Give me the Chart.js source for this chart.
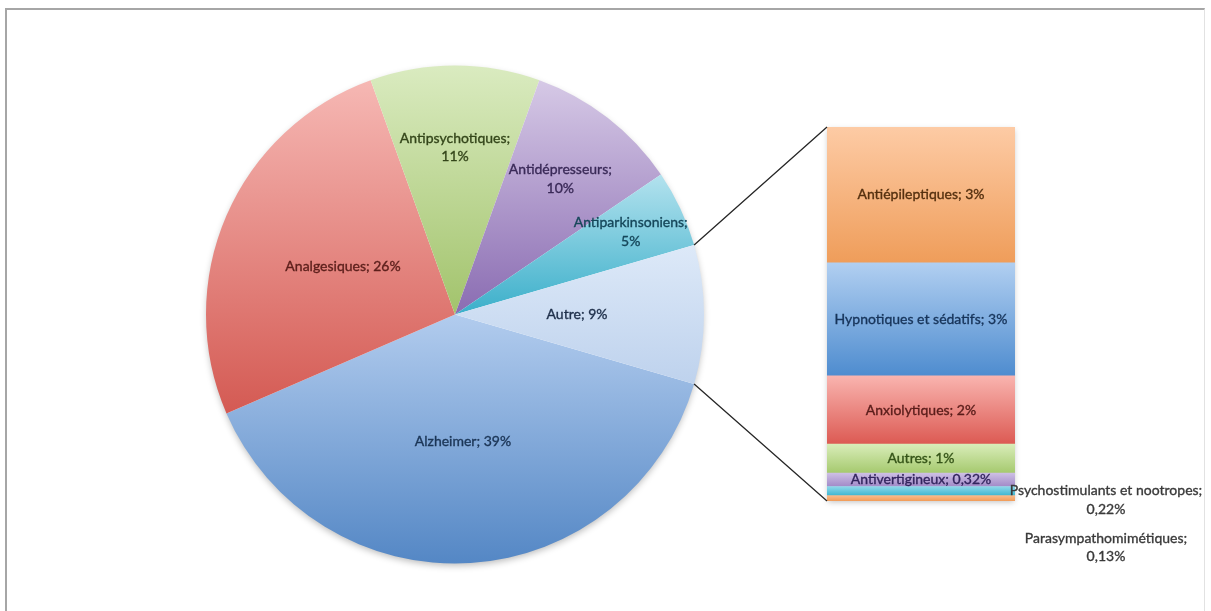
<!DOCTYPE html>
<html><head><meta charset="utf-8">
<script src="https://cdn.jsdelivr.net/npm/chart.js@4/dist/chart.umd.min.js"></script>
<style>
html,body{margin:0;padding:0;background:#fff;width:1211px;height:611px;overflow:hidden;}
#frame{position:absolute;left:5px;top:8px;width:1197px;height:620px;border-top:2px solid #a6a6a6;border-left:2px solid #a6a6a6;border-right:1px solid #e2e2e2;}
canvas{position:absolute;left:0;top:0;}
</style></head><body>
<div id="frame"></div>
<canvas id="pie" width="1211" height="611"></canvas>
<canvas id="bar" width="1211" height="611"></canvas>
<script>
// ---------- DATA ----------
const pieLabels = ['Alzheimer', 'Analgesiques', 'Antipsychotiques', 'Antidépresseurs', 'Antiparkinsoniens', 'Autre'];
const pieValues = [39, 26, 11, 10, 5, 9];
const pieText = [['Alzheimer; 39%'], ['Analgesiques; 26%'], ['Antipsychotiques;', '11%'], ['Antidépresseurs;', '10%'], ['Antiparkinsoniens;', '5%'], ['Autre; 9%']];

const barLabels = ['Parasympathomimétiques', 'Psychostimulants et nootropes', 'Antivertigineux', 'Autres', 'Anxiolytiques', 'Hypnotiques et sédatifs', 'Antiépileptiques'];
const barValues = [0.13, 0.22, 0.32, 0.70, 1.64, 2.72, 3.27];
const barText = [['Parasympathomimétiques;', '0,13%'], ['Psychostimulants et nootropes;', '0,22%'], ['Antivertigineux; 0,32%'], ['Autres; 1%'], ['Anxiolytiques; 2%'], ['Hypnotiques et sédatifs; 3%'], ['Antiépileptiques; 3%']];

// ---------- STYLE ----------
const FONT = '14px Lato, "Open Sans", sans-serif';
const LINE_H = 18.5;
const pieColors = [['#b2ccee', '#5487c5'], ['#f6b8b4', '#d45a53'], ['#daebc0', '#a2c36c'], ['#d6c9e6', '#8a6cb2'], ['#b3e2ee', '#3bafca'], ['#dde9f8', '#bed2ed']];
const pieTextColors = ['#1b3556', '#5c1f1b', '#34461a', '#3a2a58', '#16475a', '#1e2f4a'];
const pieLabelRadius = [0.51, 0.49, 0.67, 0.69, 0.78, 0.49];
const barColors = [['#f9bb8c', '#f19c58'], ['#8fd8ea', '#3cb6d1'], ['#cdbfe4', '#a28ac8'], ['#d9edb9', '#a5c96e'], ['#f9b4af', '#dc5a53'], ['#b1cff1', '#4e8ccf'], ['#fdcba5', '#ef9d5a']];
const barTextColors = ['#3a3a3a', '#3a3a3a', '#33255e', '#355418', '#5a1d1a', '#17345a', '#55300f'];
const barLabelOffset = [[91, 49], [91, 9], [0, 0], [0, 0], [0, 0], [0, 0], [0, 0]];

const total = pieValues.reduce((a, b) => a + b, 0);
const autreIdx = pieLabels.length - 1;
const rotationDeg = 90 + (pieValues[autreIdx] / total) * 180;

function pieGrad(ctx) {
  const chart = ctx.chart, area = chart.chartArea, i = ctx.dataIndex;
  const c = pieColors[i];
  if (!area) return c[1];
  const ctrl = chart.getDatasetMeta(0).controller;
  const r = ctrl.outerRadius || Math.min(area.width, area.height) / 2;
  const cx = (area.left + area.right) / 2, cy = (area.top + area.bottom) / 2;
  let start = (rotationDeg - 90) * Math.PI / 180;
  for (let k = 0; k < i; k++) start += pieValues[k] / total * 2 * Math.PI;
  const end = start + pieValues[i] / total * 2 * Math.PI;
  const ys = [cy, cy + r * Math.sin(start), cy + r * Math.sin(end)];
  for (let a = -4 * Math.PI + Math.PI / 2; a < 6 * Math.PI; a += Math.PI) {
    if (a > start && a < end) ys.push(cy + r * Math.sin(a));
  }
  const top = Math.min(...ys), bot = Math.max(...ys);
  const g = chart.ctx.createLinearGradient(0, top, 0, bot);
  g.addColorStop(0, c[0]); g.addColorStop(1, c[1]);
  return g;
}

function barGrad(ctx) {
  const chart = ctx.chart, i = ctx.datasetIndex;
  const c = barColors[i];
  const y = chart.scales && chart.scales.y;
  if (!y || !chart.chartArea) return c[1];
  let base = 0;
  for (let k = 0; k < i; k++) base += barValues[k];
  const top = y.getPixelForValue(base + barValues[i]), bot = y.getPixelForValue(base);
  const g = chart.ctx.createLinearGradient(0, top, 0, bot);
  g.addColorStop(0, c[0]); g.addColorStop(1, c[1]);
  return g;
}

function drawLines(ctx, lines, x, y, color) {
  ctx.fillStyle = color;
  ctx.strokeStyle = color;
  ctx.lineWidth = 0.35;
  const n = lines.length;
  lines.forEach((t, j) => {
    const yy = y + (j - (n - 1) / 2) * LINE_H;
    ctx.fillText(t, x, yy);
    ctx.strokeText(t, x, yy);
  });
}

const pieShadow = {
  id: 'pieShadow',
  beforeDatasetsDraw(chart) {
    const arc = chart.getDatasetMeta(0).data[0];
    const ctx = chart.ctx;
    ctx.save();
    ctx.shadowColor = 'rgba(0,0,0,0.28)';
    ctx.shadowBlur = 7; ctx.shadowOffsetY = 3;
    ctx.fillStyle = '#fff';
    ctx.beginPath(); ctx.arc(arc.x, arc.y, arc.outerRadius - 1, 0, Math.PI * 2); ctx.fill();
    ctx.restore();
  },
  afterDatasetsDraw(chart) {
    const ctx = chart.ctx;
    ctx.save();
    ctx.font = FONT; ctx.textAlign = 'center'; ctx.textBaseline = 'middle';
    chart.getDatasetMeta(0).data.forEach((arc, i) => {
      const mid = (arc.startAngle + arc.endAngle) / 2;
      const d = arc.outerRadius * pieLabelRadius[i];
      drawLines(ctx, pieText[i], arc.x + Math.cos(mid) * d, arc.y + Math.sin(mid) * d, pieTextColors[i]);
    });
    ctx.restore();
  }
};

const pieChart = new Chart(document.getElementById('pie'), {
  type: 'pie',
  data: { labels: pieLabels, datasets: [{ data: pieValues, backgroundColor: pieGrad, borderWidth: 0, hoverOffset: 0 }] },
  options: {
    responsive: false, animation: false, rotation: rotationDeg,
    layout: { padding: { left: 206, right: 507, top: 65, bottom: 47 } },
    plugins: { legend: { display: false }, tooltip: { enabled: false } }
  },
  plugins: [pieShadow]
});

const barDeco = {
  id: 'barDeco',
  beforeDatasetsDraw(chart) {
    const a = chart.chartArea, ctx = chart.ctx;
    ctx.save();
    ctx.shadowColor = 'rgba(0,0,0,0.25)';
    ctx.shadowBlur = 6; ctx.shadowOffsetY = 2;
    ctx.fillStyle = '#fff';
    ctx.fillRect(a.left + 1, a.top + 1, a.right - a.left - 2, a.bottom - a.top - 2);
    ctx.restore();
  },
  afterDatasetsDraw(chart) {
    const ctx = chart.ctx;
    const autre = pieChart.getDatasetMeta(0).data[autreIdx];
    const topBar = chart.getDatasetMeta(barValues.length - 1).data[0];
    const botBar = chart.getDatasetMeta(0).data[0];
    const left = topBar.x - topBar.width / 2;
    ctx.save();
    ctx.strokeStyle = '#262626'; ctx.lineWidth = 1.3;
    ctx.beginPath();
    ctx.moveTo(autre.x + Math.cos(autre.startAngle) * autre.outerRadius, autre.y + Math.sin(autre.startAngle) * autre.outerRadius);
    ctx.lineTo(left, topBar.y);
    ctx.moveTo(autre.x + Math.cos(autre.endAngle) * autre.outerRadius, autre.y + Math.sin(autre.endAngle) * autre.outerRadius);
    ctx.lineTo(left, botBar.base);
    ctx.stroke();
    ctx.font = FONT; ctx.textAlign = 'center'; ctx.textBaseline = 'middle';
    for (let i = barValues.length - 1; i >= 0; i--) {
      const el = chart.getDatasetMeta(i).data[0];
      const off = barLabelOffset[i];
      const cx = off[0] ? el.x + el.width / 2 + off[0] : el.x;
      const cy = (el.y + el.base) / 2 + off[1];
      drawLines(ctx, barText[i], cx, cy, barTextColors[i]);
    }
    ctx.restore();
  }
};

const barTotal = barValues.reduce((a, b) => a + b, 0);
new Chart(document.getElementById('bar'), {
  type: 'bar',
  data: {
    labels: [''],
    datasets: barLabels.map((l, i) => ({ label: l, data: [barValues[i]], backgroundColor: barGrad, borderWidth: 0, barPercentage: 1, categoryPercentage: 1 }))
  },
  options: {
    responsive: false, animation: false,
    layout: { padding: { left: 827, right: 196, top: 127, bottom: 110 } },
    scales: { x: { stacked: true, display: false }, y: { stacked: true, display: false, min: 0, max: barTotal } },
    plugins: { legend: { display: false }, tooltip: { enabled: false } }
  },
  plugins: [barDeco]
});
</script>
</body></html>
